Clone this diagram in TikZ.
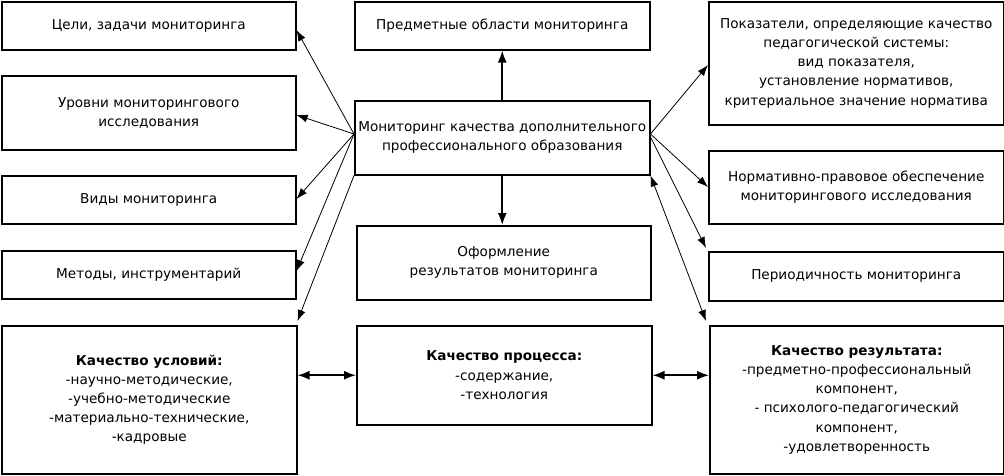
\documentclass[tikz,border=0pt]{standalone}
\usepackage{fontspec}
\setmainfont{DejaVu Sans}
\usetikzlibrary{arrows.meta,calc}
\begin{document}
\begin{tikzpicture}[x=1pt,y=-1pt,
  box/.style={draw,line width=1.5pt,anchor=north west,inner sep=0pt,align=center,
    font=\fontsize{13.6}{19.2}\selectfont},
  thin/.style={line width=0.8pt,-{Latex[length=11pt,width=8pt]}},
  thick/.style={line width=1.7pt,-{Latex[length=12pt,width=9pt]}},
  thickb/.style={line width=1.7pt,{Latex[length=12pt,width=9pt]}-{Latex[length=12pt,width=9pt]}},
  thinb/.style={line width=0.8pt,{Latex[length=11pt,width=8pt]}-{Latex[length=11pt,width=8pt]}}]
\useasboundingbox (0,0) rectangle (1004,475);
% left column
\node[box,minimum width=294pt,minimum height=48pt] (b1) at (1,1) {Цели, задачи мониторинга};
\node[box,minimum width=294pt,minimum height=74pt] (b2) at (1,75) {Уровни мониторингового\\исследования};
\node[box,minimum width=294pt,minimum height=48pt] (b3) at (1,175) {Виды мониторинга};
\node[box,minimum width=294pt,minimum height=48pt] (b4) at (1,250) {Методы, инструментарий};
\node[box,minimum width=295pt,minimum height=148pt] (b5) at (1,325) {\textbf{Качество условий:}\\-научно-методические,\\-учебно-методические\\-материально-технические,\\-кадровые};
% center column
\node[box,minimum width=295pt,minimum height=48pt] (c1) at (354,1) {Предметные области мониторинга};
\node[box,minimum width=295pt,minimum height=74pt] (c2) at (354,100) {Мониторинг качества дополнительного\\профессионального образования};
\node[box,minimum width=294pt,minimum height=74pt] (c3) at (356,225) {Оформление\\результатов мониторинга};
\node[box,minimum width=295pt,minimum height=99pt] (c4) at (356,325) {\textbf{Качество процесса:}\\-содержание,\\-технология};
% right column
\node[box,minimum width=295pt,minimum height=123pt] (r1) at (708,1) {Показатели, определяющие качество\\педагогической системы:\\вид показателя,\\установление нормативов,\\критериальное значение норматива};
\node[box,minimum width=295pt,minimum height=73pt] (r2) at (708,150) {Нормативно-правовое обеспечение\\мониторингового исследования};
\node[box,minimum width=295pt,minimum height=49pt] (r3) at (708,251) {Периодичность мониторинга};
\node[box,minimum width=294pt,minimum height=148pt] (r4) at (709,325) {\textbf{Качество результата:}\\-предметно-профессиональный\\компонент,\\- психолого-педагогический\\компонент,\\-удовлетворенность};
% connection points
\coordinate (cl) at ($(c2.north west)+(0,34)$);
\coordinate (cr) at ($(c2.north east)+(0,34)$);
\coordinate (cr2) at ($(c2.north east)+(0,37)$);
% arrows
\draw[thick] (c2.north) -- (c1.south);
\draw[thick] (c2.south) -- (c2.south |- c3.north);
\draw[thin] (cl) -- ($(b1.north east)+(0,29)$);
\draw[thin] (cl) -- ($(b2.north east)+(0,40)$);
\draw[thin] (cl) -- ($(b3.north east)+(0,24)$);
\draw[thin] (cl) -- ($(b4.north east)+(0,21)$);
\draw[thin] (c2.south west) -- ($(b5.north east)+(0,-4)$);
\draw[thin] (cr) -- ($(r1.north west)+(0,64)$);
\draw[thin] (cr) -- ($(r2.north west)+(0,37)$);
\draw[thin] (cr2) -- ($(r3.north west)+(-2,-3)$);
\draw[thinb] (c2.south east) -- ($(r4.north west)+(-3,-4)$);
\draw[thickb] (c4.west -| b5.east) -- (c4.west);
\draw[thickb] (c4.east) -- (c4.east -| r4.west);
\end{tikzpicture}
\end{document}
